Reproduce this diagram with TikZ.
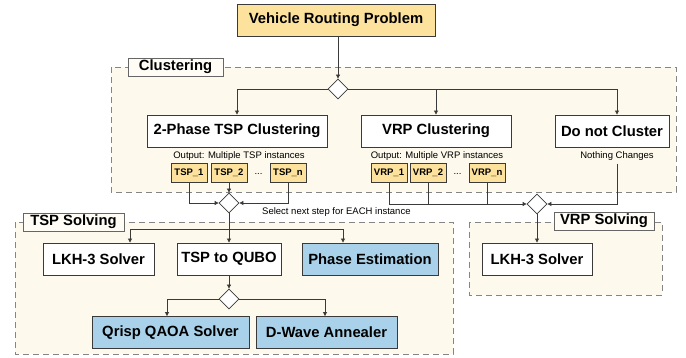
\documentclass[tikz,border=0pt]{standalone}
\usepackage{fontspec}
\setmainfont{Liberation Sans}
\usetikzlibrary{shapes.geometric,arrows.meta}
\definecolor{boxyellow}{HTML}{FCE29C}
\definecolor{boxblue}{HTML}{A9D2EA}
\definecolor{regionfill}{HTML}{FDF9EC}
\definecolor{edgegray}{HTML}{3A3A3A}
\definecolor{dashgray}{HTML}{858585}
\definecolor{labelgray}{HTML}{666666}
\begin{document}
\begin{tikzpicture}[x=1pt,y=-1pt,
  region/.style={draw=dashgray, dash pattern=on 6pt off 4pt, line width=0.9pt, fill=regionfill},
  regionlabel/.style={draw=labelgray, fill=white!50!regionfill, line width=0.8pt, font=\bfseries\fontsize{14.8}{16}\selectfont, inner sep=0pt, minimum height=18pt},
  mainbox/.style={draw=edgegray, fill=white, line width=0.9pt, font=\bfseries\fontsize{14.8}{16}\selectfont, inner sep=0pt, minimum height=32pt},
  smallbox/.style={draw=edgegray, fill=boxyellow, line width=0.8pt, font=\bfseries\fontsize{9.5}{11}\selectfont, inner sep=0pt, minimum height=19pt, minimum width=36pt},
  note/.style={font=\fontsize{9.5}{11}\selectfont, inner sep=0pt},
  decision/.style={diamond, draw=edgegray, fill=white, line width=0.8pt, minimum width=20pt, minimum height=20pt, inner sep=0pt},
  conn/.style={draw=edgegray, line width=0.8pt},
  arr/.style={conn, -{Triangle[length=4pt,width=4pt]}}
]
\useasboundingbox (0,0) rectangle (686,358);

% regions
\draw[region] (111,67) rectangle (676,192);
\draw[region] (15,222) rectangle (453,354);
\draw[region] (469,222) rectangle (662,295);
\node[regionlabel, minimum width=95pt] (lclust) at (175.5,67) {Clustering};
\node[regionlabel, minimum width=101pt] (ltsp) at (73.5,222) {TSP Solving};
\node[regionlabel, minimum width=100pt] (lvrp) at (604,221) {VRP Solving};

% top
\node[mainbox, fill=boxyellow, minimum width=198pt] (vrp) at (336,20) {Vehicle Routing Problem};
\node[decision] (d1) at (338,89) {};

% clustering
\node[mainbox, minimum width=180pt] (tspc) at (237,131) {2-Phase TSP Clustering};
\node[mainbox, minimum width=150pt] (vrpc) at (436,131) {VRP Clustering};
\node[mainbox, minimum width=114pt] (dnc) at (612,131) {Do not Cluster};

\node[note] (otsp) at (239,156) {Output: Multiple TSP instances};
\node[note] (ovrp) at (437,156) {Output: Multiple VRP instances};
\node[note] (nc) at (617,156) {Nothing Changes};

\node[smallbox] (tsp1) at (189,172.5) {TSP\_1};
\node[smallbox] (tsp2) at (229,172.5) {TSP\_2};
\node[note] (tspdots) at (258.5,173.5) {...};
\node[smallbox] (tspn) at (288,172.5) {TSP\_n};

\node[smallbox] (vrp1) at (389,172.5) {VRP\_1};
\node[smallbox] (vrp2) at (428,172.5) {VRP\_2};
\node[note] (vrpdots) at (457.5,173.5) {...};
\node[smallbox] (vrpn) at (487,172.5) {VRP\_n};

\node[decision] (dt) at (229,203) {};
\node[decision] (dv) at (537,204) {};
\node[note, anchor=west] (sel) at (262,212) {Select next step for EACH instance};

% TSP solving
\node[mainbox, minimum width=111pt] (lkh) at (98.5,259) {LKH-3 Solver};
\node[mainbox, minimum width=104pt] (qubo) at (229,259) {TSP to QUBO};
\node[mainbox, fill=boxblue, minimum width=136pt] (phase) at (370,259) {Phase Estimation};
\node[decision] (dq) at (229,299) {};
\node[mainbox, fill=boxblue, minimum width=157pt] (qrisp) at (170.5,332.5) {Qrisp QAOA Solver};
\node[mainbox, fill=boxblue, minimum width=141pt] (dwave) at (326.5,332.5) {D-Wave Annealer};

% VRP solving
\node[mainbox, minimum width=110pt] (vlkh) at (537,259) {LKH-3 Solver};

% connectors
\draw[arr] (vrp.south -| d1.north) -- (d1.north);
\draw[arr] (d1.west) -| (tspc.north);
\draw[arr] (d1.east) -| (vrpc.north);
\draw[arr] (d1.east) -| ([xshift=5pt]dnc.north);

\draw[arr] (tsp1.south) |- (dt.west);
\draw[arr] (tsp2.south) -- (dt.north);
\draw[arr] (tspn.south) |- (dt.east);

\draw[arr] (vrp1.south) |- (dv.west);
\draw[conn] (vrp2.south) -- (vrp2.south |- dv.west);
\draw[conn] (vrpn.south) -- (vrpn.south |- dv.west);
\draw[arr] ([yshift=-3pt]nc.south) |- (dv.east);

\draw[arr] (dt.south) -- (qubo.north);
\draw[arr] (dt.south) -- ++(0,16) -| ([xshift=31.5pt]lkh.north);
\draw[arr] (dt.south) -- ++(0,16) -| ([xshift=-27pt]phase.north);

\draw[arr] (qubo.south) -- (dq.north);
\draw[arr] (dq.west) -| ([xshift=-3.5pt]qrisp.north);
\draw[arr] (dq.east) -| ([xshift=-1.5pt]dwave.north);

\draw[arr] (dv.south) -- (vlkh.north);
\end{tikzpicture}
\end{document}
